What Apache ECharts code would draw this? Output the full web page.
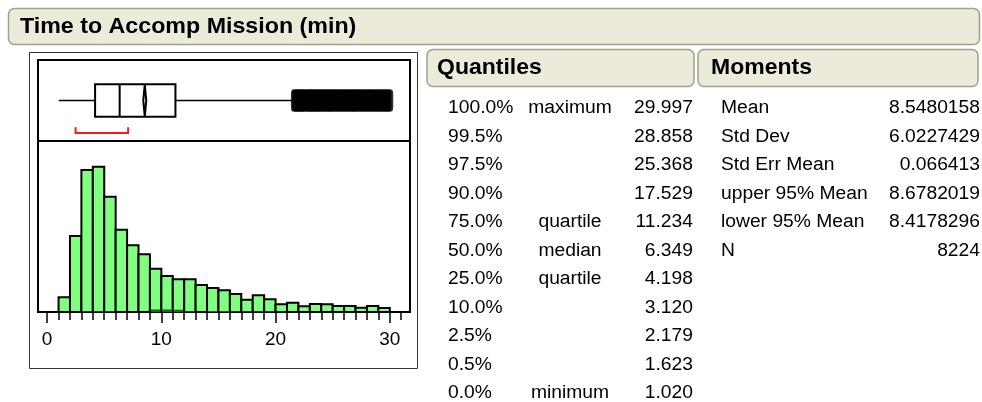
<!DOCTYPE html>
<html>
<head>
<meta charset="utf-8">
<script src="https://cdn.jsdelivr.net/npm/echarts@6/dist/echarts.min.js"></script>
<style>
  html, body { margin: 0; padding: 0; background: #fff; }
  #chart { width: 982px; height: 402px; }
</style>
</head>
<body>
<div id="chart"></div>
<script>
// Histogram bins (width 1 minute): lower edge and count
const binStarts = [1, 2, 3, 4, 5, 6, 7, 8, 9, 10, 11, 12, 13, 14, 15, 16, 17, 18, 19, 20, 21, 22, 23, 24, 25, 26, 27, 28, 29];
const binCounts = [116, 600, 1121, 1147, 910, 650, 527, 456, 342, 284, 258, 258, 213, 190, 171, 142, 97, 132, 100, 61, 73, 45, 63, 61, 47, 47, 34, 47, 32];
// Selected-row counts shown in dark green at the foot of each bar
const selectedCounts = [0, 0, 6, 6, 6, 0, 0, 0, 20, 20, 18, 6, 0, 8, 8, 6, 6, 6, 6, 4, 0, 0, 0, 0, 0, 0, 0, 0, 0];

// Outlier box plot summary
const whiskerLow = 1.020;
const quartile1 = 4.198;
const medianValue = 6.349;
const quartile3 = 11.234;
const whiskerHigh = 21.5;
const meanValue = 8.5480158;
const meanLower95 = 8.4178296;
const meanUpper95 = 8.6782019;
const shortestHalf = [2.49, 7.09];
const outlierValues = [21.65, 21.75, 21.9, 22.05, 22.2, 22.3, 22.45, 22.6, 22.8, 22.95, 23.1, 23.2, 23.4, 23.55, 23.7, 23.85,
  24.0, 24.15, 24.3, 24.5, 24.65, 24.8, 24.95, 25.1, 25.3, 25.45, 25.6, 25.8, 25.95, 26.1, 26.25, 26.4, 26.6, 26.75,
  26.9, 27.05, 27.2, 27.4, 27.55, 27.7, 27.9, 28.05, 28.2, 28.35, 28.5, 28.7, 28.858, 29.0, 29.2, 29.35, 29.5, 29.7, 29.85, 29.997];

// Axis ticks
const xTickLabels = [0, 10, 20, 30];
const xMinorTicks = [];
for (let t = 0; t <= 31; t++) xMinorTicks.push(t);

// Quantiles table
const quantilePcts = ['100.0%', '99.5%', '97.5%', '90.0%', '75.0%', '50.0%', '25.0%', '10.0%', '2.5%', '0.5%', '0.0%'];
const quantileNames = ['maximum', '', '', '', 'quartile', 'median', 'quartile', '', '', '', 'minimum'];
const quantileValues = ['29.997', '28.858', '25.368', '17.529', '11.234', '6.349', '4.198', '3.120', '2.179', '1.623', '1.020'];

// Moments table
const momentNames = ['Mean', 'Std Dev', 'Std Err Mean', 'upper 95% Mean', 'lower 95% Mean', 'N'];
const momentValues = ['8.5480158', '6.0227429', '0.066413', '8.6782019', '8.4178296', '8224'];

const FONT = '"Liberation Sans", Arial, Helvetica, sans-serif';
const X_MIN = -0.8, X_MAX = 31.77;
const STRETCH = 1.07;

const chart = echarts.init(document.getElementById('chart'), null, { renderer: 'canvas' });

function headerBox(x, y, w, h) {
  return {
    type: 'rect',
    shape: { x: x, y: y, width: w, height: h, r: 6 },
    style: { fill: '#ECEAD9', stroke: '#A29F8D', lineWidth: 1.5 },
    z: 1
  };
}
function txt(text, x, y, align, size, bold, stretch) {
  return {
    type: 'text',
    x: x, y: y,
    scaleX: stretch || STRETCH,
    style: {
      text: text,
      font: (bold ? 'bold ' : '') + size + 'px ' + FONT,
      fill: '#000',
      align: align,
      verticalAlign: 'middle'
    },
    z: 2
  };
}

const graphics = [
  headerBox(8.5, 8.5, 971, 36),
  txt('Time to Accomp Mission (min)', 20, 27, 'left', 21.5, true, 1.08),
  headerBox(427, 49.5, 267, 37),
  txt('Quantiles', 437, 68.5, 'left', 21.5, true),
  headerBox(698, 49.5, 280, 37),
  txt('Moments', 711, 68.5, 'left', 21.5, true),
  {
    type: 'rect',
    shape: { x: 29.5, y: 52.5, width: 388, height: 316 },
    style: { fill: 'none', stroke: '#333', lineWidth: 1 },
    z: 1
  }
];
const ROW0 = 108.5, ROW_STEP = 28.45;
quantilePcts.forEach((p, i) => {
  const y = ROW0 + i * ROW_STEP;
  graphics.push(txt(p, 448, y, 'left', 18, false));
  if (quantileNames[i]) graphics.push(txt(quantileNames[i], 570, y, 'center', 18, false));
  graphics.push(txt(quantileValues[i], 693, y, 'right', 18, false));
});
momentNames.forEach((m, i) => {
  const y = ROW0 + i * ROW_STEP;
  graphics.push(txt(m, 721, y, 'left', 18, false));
  graphics.push(txt(momentValues[i], 980, y, 'right', 18, false));
});

const histData = binStarts.map((s, i) => [s, s + 1, binCounts[i]]);
const selData = binStarts.map((s, i) => [s, s + 1, selectedCounts[i]]).filter(d => d[2] > 0);

function renderBin(fill, stroke, inset) {
  return function (params, api) {
    const p0 = api.coord([api.value(0), api.value(2)]);
    const p1 = api.coord([api.value(1), 0]);
    return {
      type: 'rect',
      shape: { x: p0[0] + inset, y: p0[1], width: p1[0] - p0[0] - 2 * inset, height: p1[1] - p0[1] },
      style: stroke ? { fill: fill, stroke: stroke, lineWidth: 2 } : { fill: fill }
    };
  };
}

function renderBox(params, api) {
  const c = (x, y) => api.coord([x, y]);
  const yMid = 0.5, yTop = 0.7, yBot = 0.3;
  const lo = c(whiskerLow, yMid), hi = c(whiskerHigh, yMid);
  const b1 = c(quartile1, yTop), b2 = c(quartile3, yBot);
  const m1 = c(medianValue, yTop), m2 = c(medianValue, yBot);
  const d1 = c(meanLower95, yMid), d2 = c(meanValue, yTop), d3 = c(meanUpper95, yMid), d4 = c(meanValue, yBot);
  const s1 = c(shortestHalf[0], 0.17), s2 = c(shortestHalf[0], 0.1), s3 = c(shortestHalf[1], 0.1), s4 = c(shortestHalf[1], 0.17);
  const line = (a, b, w) => ({ type: 'line', shape: { x1: a[0], y1: a[1], x2: b[0], y2: b[1] }, style: { stroke: '#000', lineWidth: w } });
  return {
    type: 'group',
    children: [
      line(lo, c(quartile1, yMid), 1.5),
      line(c(quartile3, yMid), hi, 1.5),
      { type: 'rect', shape: { x: b1[0], y: b1[1], width: b2[0] - b1[0], height: b2[1] - b1[1] }, style: { fill: '#fff', stroke: '#000', lineWidth: 2 } },
      line(m1, m2, 2),
      { type: 'polygon', shape: { points: [d1, d2, d3, d4] }, style: { fill: 'none', stroke: '#000', lineWidth: 2 } },
      { type: 'polyline', shape: { points: [s1, s2, s3, s4] }, style: { fill: 'none', stroke: '#F01E1E', lineWidth: 2 } }
    ]
  };
}

chart.setOption({
  animation: false,
  backgroundColor: '#fff',
  textStyle: { fontFamily: FONT },
  graphic: graphics,
  grid: [
    { left: 38, top: 60, width: 372, height: 81, show: true, borderColor: '#000', borderWidth: 2, backgroundColor: '#fff' },
    { left: 38, top: 141, width: 372, height: 171, show: true, borderColor: '#000', borderWidth: 2, backgroundColor: '#fff' }
  ],
  xAxis: [
    { gridIndex: 0, type: 'value', min: X_MIN, max: X_MAX, show: false },
    {
      gridIndex: 1, type: 'value', min: X_MIN, max: X_MAX, position: 'bottom',
      axisLine: { show: true, lineStyle: { color: '#000', width: 2 } },
      axisTick: { show: true, customValues: xMinorTicks, length: 8, lineStyle: { color: '#000', width: 1.5 } },
      axisLabel: { show: false },
      splitLine: { show: false }
    },
    {
      gridIndex: 1, type: 'value', min: X_MIN, max: X_MAX, position: 'bottom',
      axisLine: { show: false },
      axisTick: { show: true, customValues: xTickLabels, length: 11, lineStyle: { color: '#000', width: 1.5 } },
      axisLabel: { show: true, customValues: xTickLabels, color: '#000', fontSize: 19, fontFamily: FONT, margin: 18 },
      splitLine: { show: false }
    }
  ],
  yAxis: [
    { gridIndex: 0, type: 'value', min: 0, max: 1, show: false },
    { gridIndex: 1, type: 'value', min: 0, max: 1350, show: false }
  ],
  series: [
    {
      type: 'custom', xAxisIndex: 1, yAxisIndex: 1,
      renderItem: renderBin('#80FF80', '#000', 0),
      encode: { x: [0, 1], y: 2 },
      data: histData, z: 2
    },
    {
      type: 'custom', xAxisIndex: 1, yAxisIndex: 1,
      renderItem: renderBin('#007A00', null, 1),
      encode: { x: [0, 1], y: 2 },
      data: selData, z: 3
    },
    {
      type: 'custom', xAxisIndex: 0, yAxisIndex: 0,
      renderItem: renderBox,
      data: [[whiskerLow, whiskerHigh]], z: 3
    },
    {
      type: 'scatter', xAxisIndex: 0, yAxisIndex: 0,
      symbol: 'roundRect', symbolSize: [7, 22],
      itemStyle: { color: '#000' },
      data: outlierValues.map(v => [v, 0.5]), z: 4
    }
  ]
});
</script>
</body>
</html>
